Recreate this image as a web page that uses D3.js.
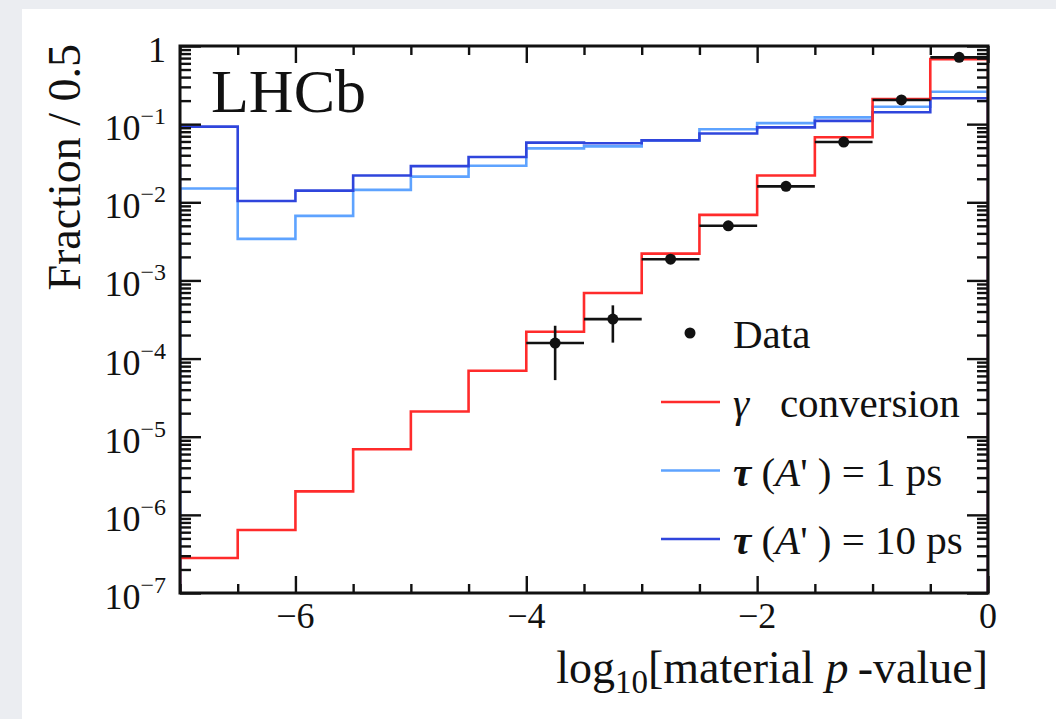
<!DOCTYPE html>
<html>
<head>
<meta charset="utf-8">
<script src="https://cdn.jsdelivr.net/npm/d3@7"></script>
<style>
  body { margin: 0; background: #ebedf1; }
  svg { display: block; }
  text { font-family: "Liberation Serif", "Times New Roman", serif; fill: #111; }
</style>
</head>
<body>
<div id="chart"></div>
<script>
// bins of 0.5 in log10(p-value)
const binLow = [-7, -6.5, -6, -5.5, -5, -4.5, -4, -3.5, -3, -2.5, -2, -1.5, -1, -0.5];
const binWidth = 0.5;

// fraction per bin
const gammaConv = [2.8e-7, 6.4e-7, 2.0e-6, 6.9e-6, 2.1e-5, 7.0e-5, 2.2e-4, 6.9e-4, 2.2e-3, 6.9e-3, 0.022, 0.068, 0.21, 0.68];
const tau1ps = [0.015, 0.0034, 0.0067, 0.0144, 0.0213, 0.0294, 0.049, 0.052, 0.062, 0.086, 0.103, 0.122, 0.167, 0.26];
const tau10ps = [0.093, 0.0104, 0.0141, 0.022, 0.029, 0.038, 0.058, 0.057, 0.062, 0.076, 0.091, 0.11, 0.142, 0.214];

// data points
const dataX = [-3.75, -3.25, -2.75, -2.25, -1.75, -1.25, -0.75, -0.25];
const dataY = [1.58e-4, 3.2e-4, 1.87e-3, 5.0e-3, 0.0160, 0.059, 0.204, 0.716];
const dataErr = [1.05e-4, 1.6e-4, 2.3e-4, 4e-4, 8e-4, 1.5e-3, 3e-3, 6e-3];

const xMajor = [-6, -4, -2, 0];
const yMajor = [1e-7, 1e-6, 1e-5, 1e-4, 1e-3, 1e-2, 1e-1, 1];

const W = 1056, H = 719;
const pLeft = 180, pRight = 988, pTop = 46, pBottom = 593;

const svg = d3.select("#chart").append("svg")
    .attr("width", W)
    .attr("height", H);

// white card
svg.append("rect")
    .attr("x", 22).attr("y", 9)
    .attr("width", W - 22).attr("height", H - 9)
    .attr("fill", "#fff");

const x = d3.scaleLinear().domain([-7, 0]).range([pLeft, pRight]);
const y = d3.scaleLog().domain([1e-7, 1]).range([pBottom, pTop]);

svg.append("clipPath").attr("id", "plot")
    .append("rect")
    .attr("x", pLeft).attr("y", pTop)
    .attr("width", pRight - pLeft).attr("height", pBottom - pTop);

// histogram step lines
function stepPoints(vals) {
    const pts = [[-7, 1e-7]];
    vals.forEach((v, i) => pts.push([binLow[i], v]));
    pts.push([binLow[binLow.length - 1] + binWidth, vals[vals.length - 1]]);
    pts.push([binLow[binLow.length - 1] + binWidth, 1e-7]);
    return pts;
}
const step = d3.line()
    .x(d => x(d[0]))
    .y(d => y(d[1]))
    .curve(d3.curveStepAfter);

const hGamma = { vals: gammaConv, color: "#ff2b2b" };
const h1 = { vals: tau1ps, color: "#5ea3ff" };
const h10 = { vals: tau10ps, color: "#2f45dc" };

const g = svg.append("g").attr("clip-path", "url(#plot)");
g.selectAll("path.hist")
    .data([h1, h10, hGamma])
    .enter().append("path")
    .attr("class", "hist")
    .attr("d", d => step(stepPoints(d.vals)))
    .attr("fill", "none")
    .attr("stroke", d => d.color)
    .attr("stroke-width", 2.6);

// data with error bars
const pts = dataX.map((v, i) => ({ x: v, y: dataY[i], e: dataErr[i] }));
const pg = g.selectAll("g.pt").data(pts).enter().append("g").attr("class", "pt");
pg.append("line")
    .attr("x1", d => x(d.x - binWidth / 2)).attr("x2", d => x(d.x + binWidth / 2))
    .attr("y1", d => y(d.y)).attr("y2", d => y(d.y))
    .attr("stroke", "#111").attr("stroke-width", 2.6);
pg.append("line")
    .attr("x1", d => x(d.x)).attr("x2", d => x(d.x))
    .attr("y1", d => y(d.y + d.e)).attr("y2", d => y(Math.max(d.y - d.e, 1.1e-7)))
    .attr("stroke", "#111").attr("stroke-width", 2.6);
pg.append("circle")
    .attr("cx", d => x(d.x)).attr("cy", d => y(d.y))
    .attr("r", 5.5).attr("fill", "#111");

// axes, ticks inward on all four sides
const yMinor = [];
yMajor.slice(0, -1).forEach(m => { for (let k = 2; k <= 9; k++) yMinor.push(m * k); });
const xMinor = binLow.filter(v => xMajor.indexOf(v) < 0);

function tickAxis(axis, tx, ty) {
    const a = svg.append("g").attr("transform", `translate(${tx},${ty})`).call(axis);
    a.select(".domain").remove();
    a.selectAll("line").attr("stroke", "#111").attr("stroke-width", 2.4);
    a.selectAll("text").remove();
}
tickAxis(d3.axisLeft(y).tickValues(yMajor).tickSize(-21), pLeft, 0);
tickAxis(d3.axisLeft(y).tickValues(yMinor).tickSize(-11), pLeft, 0);
tickAxis(d3.axisRight(y).tickValues(yMajor).tickSize(-21), pRight, 0);
tickAxis(d3.axisRight(y).tickValues(yMinor).tickSize(-11), pRight, 0);
tickAxis(d3.axisBottom(x).tickValues(xMajor).tickSize(-17), 0, pBottom);
tickAxis(d3.axisBottom(x).tickValues(xMinor).tickSize(-9), 0, pBottom);
tickAxis(d3.axisTop(x).tickValues(xMajor).tickSize(-17), 0, pTop);
tickAxis(d3.axisTop(x).tickValues(xMinor).tickSize(-9), 0, pTop);

svg.append("rect")
    .attr("x", pLeft).attr("y", pTop)
    .attr("width", pRight - pLeft).attr("height", pBottom - pTop)
    .attr("fill", "none").attr("stroke", "#111").attr("stroke-width", 3);

// tick labels
svg.selectAll("text.xl").data(xMajor).enter().append("text")
    .attr("class", "xl")
    .attr("x", d => x(d)).attr("y", pBottom + 35)
    .attr("text-anchor", "middle")
    .attr("font-size", 36)
    .text(d => d < 0 ? "\u2212" + Math.abs(d) : d);

const yl = svg.selectAll("text.yl").data(yMajor).enter().append("text")
    .attr("class", "yl")
    .attr("x", 166).attr("y", d => y(d) + 16)
    .attr("text-anchor", "end")
    .attr("font-size", 36);
yl.filter(d => d === 1).text("1");
yl.filter(d => d !== 1).each(function(d) {
    const t = d3.select(this);
    t.append("tspan").text("10");
    t.append("tspan").attr("dy", -16).attr("font-size", 24)
        .text("\u2212" + Math.round(-Math.log10(d)));
});

// axis titles
svg.append("text")
    .attr("transform", "translate(80,44) rotate(-90)")
    .attr("text-anchor", "end")
    .attr("font-size", 46)
    .text("Fraction / 0.5");

const xt = svg.append("text")
    .attr("x", pRight).attr("y", 683)
    .attr("text-anchor", "end")
    .attr("font-size", 46);
xt.append("tspan").text("log");
xt.append("tspan").attr("font-size", 33).attr("dy", 10).text("10");
xt.append("tspan").attr("dy", -10).text("[material ");
xt.append("tspan").attr("font-style", "italic").text("p");
xt.append("tspan").text("\u2009-value]");

svg.append("text")
    .attr("x", 211).attr("y", 112)
    .attr("font-size", 62)
    .text("LHCb");

// legend
const legRows = [333, 402, 470.5, 539];
const leg = svg.append("g");
leg.append("circle").attr("cx", 690).attr("cy", legRows[0]).attr("r", 5.5).attr("fill", "#111");
leg.selectAll("line").data([hGamma, h1, h10]).enter().append("line")
    .attr("x1", 661).attr("x2", 720)
    .attr("y1", (d, i) => legRows[i + 1]).attr("y2", (d, i) => legRows[i + 1])
    .attr("stroke", d => d.color).attr("stroke-width", 2.6);

const lt = (i) => leg.append("text").attr("x", 733).attr("y", legRows[i] + 15).attr("font-size", 41);
lt(0).text("Data");
const t1 = lt(1);
t1.append("tspan").attr("font-style", "italic").text("\u03b3");
t1.append("tspan").text("\u2002 conversion");
[["1 ps", 2], ["10 ps", 3]].forEach(([lab, i]) => {
    const t = lt(i);
    t.append("tspan").attr("font-style", "italic").attr("font-weight", "bold").text("\u03c4");
    t.append("tspan").text(" (");
    t.append("tspan").attr("font-style", "italic").text("A");
    t.append("tspan").text("' ) = " + lab);
});
</script>
</body>
</html>
